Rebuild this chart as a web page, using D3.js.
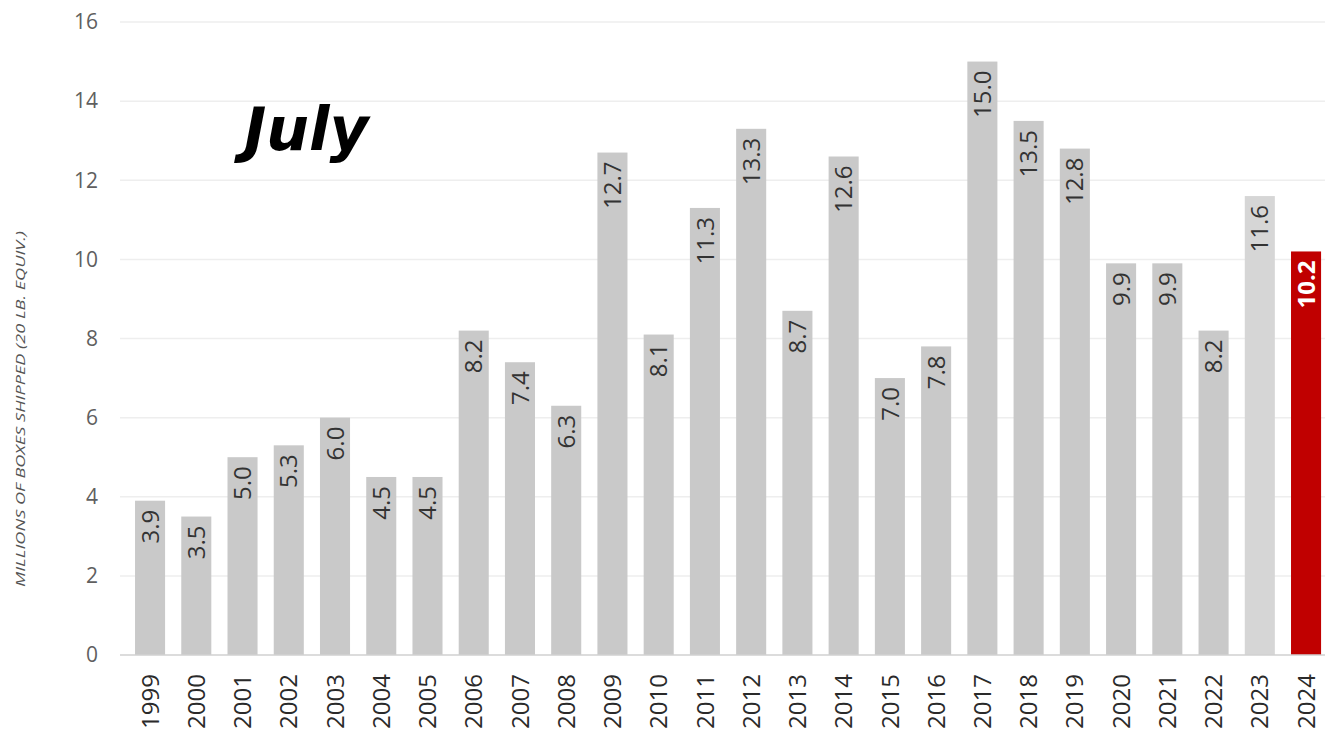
<!DOCTYPE html>
<html>
<head>
<meta charset="utf-8">
<script src="https://cdn.jsdelivr.net/npm/d3@7"></script>
<style>
  body { margin: 0; background: #fff; }
</style>
</head>
<body>
<script>
let years = ['1999','2000','2001','2002','2003','2004','2005','2006','2007','2008','2009','2010','2011','2012','2013','2014','2015','2016','2017','2018','2019','2020','2021','2022','2023','2024'];
let boxes = [3.9, 3.5, 5.0, 5.3, 6.0, 4.5, 4.5, 8.2, 7.4, 6.3, 12.7, 8.1, 11.3, 13.3, 8.7, 12.6, 7.0, 7.8, 15.0, 13.5, 12.8, 9.9, 9.9, 8.2, 11.6, 10.2];
let yTicks = [0, 2, 4, 6, 8, 10, 12, 14, 16];
let yTitle = 'MILLIONS OF BOXES SHIPPED (20 LB. EQUIV.)';
let monthLabel = 'July';

let svg = d3.select('body').append('svg').attr('width', 1325).attr('height', 737);

let x = d3.scaleBand().domain(years).range([130.4, 1325.7]).paddingInner(0.35).paddingOuter(0.1);
let y = d3.scaleLinear().domain([0, 16]).range([655, 22]);

// gridlines
svg.selectAll('line.grid').data(yTicks.slice(1)).enter().append('line')
  .attr('x1', 120).attr('x2', 1325)
  .attr('y1', d => y(d)).attr('y2', d => y(d))
  .attr('stroke', '#eeeeee').attr('stroke-width', 1.5);

// y tick labels
svg.selectAll('text.ytick').data(yTicks).enter().append('text')
  .attr('x', 98).attr('y', d => y(d)).attr('dy', '0.35em')
  .attr('text-anchor', 'end')
  .attr('font-family', 'Open Sans, sans-serif').attr('font-size', '21px')
  .attr('fill', '#5f5f5f')
  .text(d => d);

// bars
svg.selectAll('rect.bar').data(boxes).enter().append('rect')
  .attr('x', (d, i) => x(years[i]))
  .attr('y', d => y(d))
  .attr('width', x.bandwidth())
  .attr('height', d => y(0) - y(d))
  .attr('fill', (d, i) => years[i] === '2024' ? '#c00000' : (years[i] === '2023' ? '#d6d6d6' : '#c9c9c9'));

// baseline
svg.append('line').attr('x1', 120).attr('x2', 1325).attr('y1', y(0)).attr('y2', y(0))
  .attr('stroke', '#d0d0d0').attr('stroke-width', 1.5);

// value labels
svg.selectAll('text.val').data(boxes).enter().append('text')
  .attr('transform', (d, i) => 'translate(' + (x(years[i]) + x.bandwidth() / 2) + ',' + (y(d) + 9) + ') rotate(-90)')
  .attr('text-anchor', 'end').attr('dy', '0.36em')
  .attr('font-family', 'Open Sans, sans-serif').attr('font-size', '24px')
  .attr('font-weight', (d, i) => years[i] === '2024' ? 'bold' : 'normal')
  .attr('fill', (d, i) => years[i] === '2024' ? '#ffffff' : '#333333')
  .text(d => d.toFixed(1));

// year labels
svg.selectAll('text.year').data(years).enter().append('text')
  .attr('transform', d => 'translate(' + (x(d) + x.bandwidth() / 2) + ',674) rotate(-90)')
  .attr('text-anchor', 'end').attr('dy', '0.36em')
  .attr('font-family', 'Open Sans, sans-serif').attr('font-size', '24px')
  .attr('fill', '#2a2a2a')
  .text(d => d);

// y axis title
svg.append('text')
  .attr('transform', 'translate(20,409) rotate(-90)')
  .attr('text-anchor', 'middle').attr('dy', '0.35em')
  .attr('font-family', 'Open Sans, sans-serif').attr('font-size', '13px')
  .attr('font-style', 'italic')
  .attr('textLength', 356).attr('lengthAdjust', 'spacingAndGlyphs')
  .attr('fill', '#555555')
  .text(yTitle);

// month label
svg.append('text')
  .attr('x', 244).attr('y', 150)
  .attr('font-family', 'DejaVu Sans, sans-serif').attr('font-size', '60px')
  .attr('font-weight', 'bold').attr('font-style', 'italic')
  .attr('fill', '#000')
  .text(monthLabel);
</script>
</body>
</html>
